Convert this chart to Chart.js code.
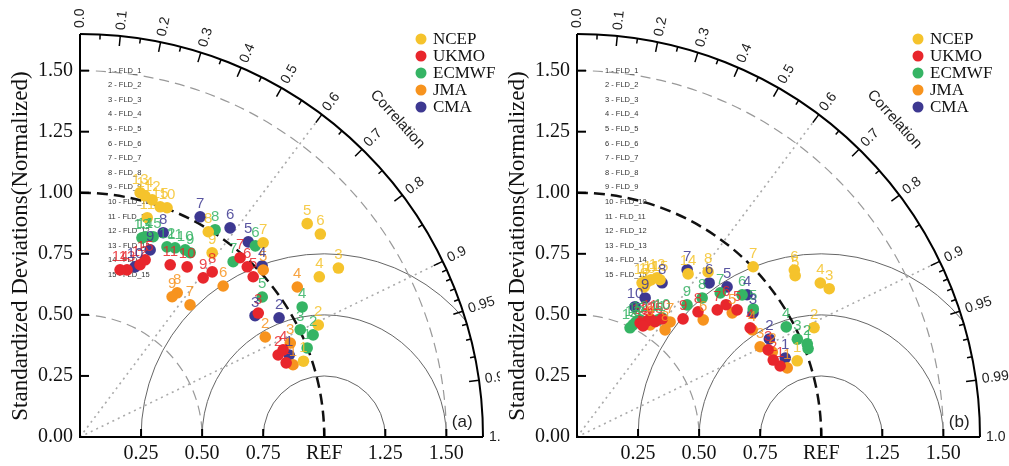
<!DOCTYPE html>
<html>
<head>
<meta charset="utf-8">
<script src="https://cdn.jsdelivr.net/npm/chart.js@4"></script>
<style>
  body { margin: 0; background: #fff; }
  #wrap { position: relative; width: 1009px; height: 466px; overflow: hidden; }
  canvas { position: absolute; top: 0; }
</style>
</head>
<body>
<div id="wrap">
  <canvas id="chartA" width="500" height="466" style="left:0"></canvas>
  <canvas id="chartB" width="512" height="466" style="left:497px"></canvas>
</div>
<script>
// models and colours
var models = ['NCEP', 'UKMO', 'ECMWF', 'JMA', 'CMA'];
var colors = ['#f5c32c', '#e8262c', '#35b464', '#f7931e', '#3d3891'];

var fldNames = [];
for (var k = 1; k <= 15; k++) fldNames.push(k + ' - FLD_' + k);

// correlation ticks on the outer arc
var corrLabels = [0.0, 0.1, 0.2, 0.3, 0.4, 0.5, 0.6, 0.7, 0.8, 0.9, 0.95, 0.99, 1.0];
var corrMinor = [0.05, 0.15, 0.25, 0.35, 0.45, 0.55, 0.65, 0.75, 0.85, 0.91, 0.92, 0.93, 0.94, 0.96, 0.97, 0.98];
var corrDotted = [0.6, 0.9];
var sdTicks = [0.25, 0.5, 0.75, 1.0, 1.25, 1.5];
var sdTickLabels = ['0.25', '0.50', '0.75', 'REF', '1.25', '1.50'];
var yTicks = [0, 0.25, 0.5, 0.75, 1.0, 1.25, 1.5];
var yTickLabels = ['0.00', '0.25', '0.50', '0.75', '1.00', '1.25', '1.50'];
var rmsCircles = [0.25, 0.5, 0.75];
var sdDashed = [0.5, 1.5];
var sdMax = 1.65;

// panel (a): normalized standard deviation and correlation per field
var a_ncep_fld = [1,2,3,4,5,6,7,8,9,10,11,12,13,14,15];
var a_ncep_sd  = [0.966,1.078,1.264,1.179,1.276,1.288,1.093,0.991,0.928,1.004,0.939,1.015,1.030,1.023,0.998];
var a_ncep_r   = [0.947,0.905,0.837,0.831,0.729,0.764,0.686,0.530,0.583,0.355,0.293,0.291,0.239,0.260,0.329];

var a_ukmo_fld = [1,2,3,4,5,6,7,8,9,10,11,12,13,14,15];
var a_ukmo_sd  = [0.897,0.878,0.889,0.905,0.966,0.977,0.984,0.866,0.824,0.823,0.796,0.747,0.711,0.704,0.773];
var a_ukmo_r   = [0.941,0.924,0.821,0.919,0.734,0.701,0.666,0.625,0.612,0.533,0.464,0.329,0.271,0.233,0.345];

var a_ecmwf_fld = [1,2,3,4,5,6,7,8,9,10,11,12,13,14,15];
var a_ecmwf_sd  = [0.999,1.042,1.003,1.054,0.941,1.062,0.953,1.013,0.879,0.879,0.867,0.856,0.854,0.862,0.873];
var a_ecmwf_r   = [0.931,0.916,0.899,0.863,0.793,0.676,0.658,0.546,0.513,0.490,0.449,0.416,0.297,0.309,0.343];

var a_jma_fld = [1,2,3,4,5,6,7,8,9];
var a_jma_sd  = [0.921,0.862,0.943,1.081,1.015,0.852,0.704,0.712,0.687];
var a_jma_r   = [0.947,0.880,0.913,0.823,0.739,0.688,0.640,0.559,0.549];

var a_cma_fld = [1,2,3,4,5,6,7,8,9,10];
var a_cma_sd  = [0.920,0.950,0.872,1.023,1.055,1.054,1.027,0.903,0.818,0.732];
var a_cma_r   = [0.931,0.858,0.822,0.729,0.653,0.583,0.479,0.377,0.351,0.308];

// panel (b)
var b_ncep_fld = [1,2,3,4,5,6,7,8,9,10,11,12,13,14,15];
var b_ncep_sd  = [0.954,1.069,1.198,1.179,1.111,1.122,1.003,0.863,0.673,0.697,0.711,0.730,0.685,0.808,0.728];
var b_ncep_r   = [0.945,0.908,0.862,0.845,0.804,0.793,0.719,0.622,0.408,0.412,0.426,0.449,0.389,0.563,0.467];

var b_ukmo_fld = [1,2,3,4,5,6,7,8,9,10,11,12,13,14,15];
var b_ukmo_sd  = [0.881,0.863,0.860,0.838,0.837,0.816,0.775,0.713,0.650,0.596,0.569,0.555,0.534,0.529,0.570];
var b_ukmo_r   = [0.944,0.931,0.910,0.846,0.783,0.748,0.741,0.695,0.668,0.585,0.526,0.517,0.484,0.511,0.561];

var b_ecmwf_fld = [1,2,3,4,5,6,7,8,9,10,11,12,13,14,15];
var b_ecmwf_sd  = [1.013,1.017,0.987,0.968,0.892,0.892,0.832,0.766,0.704,0.599,0.583,0.545,0.513,0.497,0.530];
var b_ecmwf_r   = [0.934,0.927,0.914,0.885,0.809,0.758,0.705,0.669,0.640,0.581,0.569,0.474,0.447,0.437,0.456];

var b_jma_fld = [1,2,3,4,5,6,7,8,9];
var b_jma_sd  = [0.906,0.872,0.836,0.841,0.814,0.705,0.606,0.568,0.548];
var b_jma_r   = [0.950,0.917,0.897,0.853,0.781,0.733,0.629,0.635,0.546];

var b_cma_fld = [1,2,3,4,5,6,7,8,9,10];
var b_cma_sd  = [0.912,0.884,0.882,0.908,0.869,0.831,0.820,0.721,0.634,0.584];
var b_cma_r   = [0.935,0.891,0.817,0.767,0.707,0.651,0.550,0.483,0.440,0.407];

function polar(sd, r) {
  return sd.map(function(s, i) {
    return { x: s * r[i], y: s * Math.sqrt(1 - r[i] * r[i]) };
  });
}

function makeSets(list) {
  return list.map(function(m, i) {
    return {
      label: models[i],
      data: polar(m[1], m[2]),
      fields: m[0],
      backgroundColor: colors[i],
      borderColor: colors[i],
      pointRadius: 5.8,
      pointHoverRadius: 5.8,
      borderWidth: 0
    };
  });
}

var taylorPlugin = {
  id: 'taylor',
  beforeDatasetsDraw: function(chart) {
    var ctx = chart.ctx;
    var xs = chart.scales.x, ys = chart.scales.y;
    var x0 = xs.getPixelForValue(0), y0 = ys.getPixelForValue(0);
    var k = xs.getPixelForValue(1) - x0;
    var R = sdMax * k;
    ctx.save();

    // rms circles around REF, clipped to the quadrant
    ctx.save();
    ctx.beginPath();
    ctx.moveTo(x0, y0);
    ctx.arc(x0, y0, R, -Math.PI / 2, 0);
    ctx.closePath();
    ctx.clip();
    var xr = xs.getPixelForValue(1);
    ctx.strokeStyle = '#666';
    ctx.lineWidth = 1;
    rmsCircles.forEach(function(c) {
      ctx.beginPath();
      ctx.arc(xr, y0, c * k, Math.PI, 2 * Math.PI);
      ctx.stroke();
    });
    ctx.restore();

    // dashed sd arcs
    ctx.strokeStyle = '#999';
    ctx.lineWidth = 1.2;
    ctx.setLineDash([10, 6]);
    sdDashed.forEach(function(s) {
      ctx.beginPath();
      ctx.arc(x0, y0, s * k, -Math.PI / 2, 0);
      ctx.stroke();
    });
    // REF arc
    ctx.strokeStyle = '#111';
    ctx.lineWidth = 2.5;
    ctx.setLineDash([11, 6]);
    ctx.beginPath();
    ctx.arc(x0, y0, k, -Math.PI / 2, 0);
    ctx.stroke();

    // dotted correlation rays
    ctx.strokeStyle = '#aaa';
    ctx.lineWidth = 1.6;
    ctx.setLineDash([2, 4]);
    corrDotted.forEach(function(c) {
      var t = Math.acos(c);
      ctx.beginPath();
      ctx.moveTo(x0, y0);
      ctx.lineTo(x0 + R * Math.cos(t), y0 - R * Math.sin(t));
      ctx.stroke();
    });
    ctx.setLineDash([]);

    // axes and outer arc
    ctx.strokeStyle = '#000';
    ctx.lineWidth = 2;
    ctx.beginPath();
    ctx.moveTo(x0, y0 - R);
    ctx.lineTo(x0, y0);
    ctx.lineTo(x0 + R, y0);
    ctx.stroke();
    ctx.beginPath();
    ctx.arc(x0, y0, R, -Math.PI / 2, 0);
    ctx.stroke();

    // correlation ticks
    function tick(c, len) {
      var t = Math.acos(c);
      ctx.beginPath();
      ctx.moveTo(x0 + R * Math.cos(t), y0 - R * Math.sin(t));
      ctx.lineTo(x0 + (R - len) * Math.cos(t), y0 - (R - len) * Math.sin(t));
      ctx.stroke();
    }
    ctx.lineWidth = 1.5;
    corrLabels.forEach(function(c) { if (c > 0 && c < 1) tick(c, 10); });
    corrMinor.forEach(function(c) { tick(c, 5); });

    // correlation labels
    ctx.fillStyle = '#222';
    ctx.font = '14px "Liberation Sans", Arial, sans-serif';
    ctx.textAlign = 'left';
    ctx.textBaseline = 'middle';
    corrLabels.forEach(function(c) {
      var t = Math.acos(c);
      ctx.save();
      ctx.translate(x0 + (R + 6) * Math.cos(t), y0 - (R + 6) * Math.sin(t));
      ctx.rotate(-t);
      ctx.fillText(c.toFixed(c === 0.95 || c === 0.99 ? 2 : 1), 0, 0);
      ctx.restore();
    });
    ctx.save();
    ctx.font = '15px "Liberation Sans", Arial, sans-serif';
    ctx.textAlign = 'center';
    var tc = Math.PI / 4;
    ctx.translate(x0 + (R + 46) * Math.cos(tc), y0 - (R + 46) * Math.sin(tc));
    ctx.rotate(tc + 0.05);
    ctx.fillText('Correlation', 0, 0);
    ctx.restore();

    // sd ticks and labels
    ctx.lineWidth = 2;
    ctx.fillStyle = '#111';
    ctx.font = '20px "Liberation Serif", "Times New Roman", serif';
    ctx.textAlign = 'center';
    ctx.textBaseline = 'top';
    sdTicks.forEach(function(s, i) {
      var px = xs.getPixelForValue(s);
      ctx.beginPath();
      ctx.moveTo(px, y0);
      ctx.lineTo(px, y0 - 8);
      ctx.stroke();
      ctx.fillText(sdTickLabels[i], px, y0 + 7);
    });
    ctx.textAlign = 'right';
    ctx.textBaseline = 'middle';
    yTicks.forEach(function(s, i) {
      var py = ys.getPixelForValue(s);
      ctx.beginPath();
      ctx.moveTo(x0, py);
      ctx.lineTo(x0 + 9, py);
      ctx.stroke();
      ctx.fillText(yTickLabels[i], x0 - 7, py);
    });

    // y title
    ctx.save();
    ctx.font = '23px "Liberation Serif", "Times New Roman", serif';
    ctx.textAlign = 'center';
    ctx.translate(21, 246);
    ctx.rotate(-Math.PI / 2);
    ctx.fillText('Standardized Deviations(Normalized)', 0, 0);
    ctx.restore();

    // field list
    ctx.fillStyle = '#333';
    ctx.font = '7.5px "Liberation Sans", Arial, sans-serif';
    ctx.textAlign = 'left';
    var fy = ys.getPixelForValue(1.5);
    fldNames.forEach(function(n, i) {
      ctx.fillText(n, x0 + 28, fy + i * 14.6);
    });

    // panel tag
    ctx.fillStyle = '#222';
    ctx.font = '17px "Liberation Sans", Arial, sans-serif';
    ctx.textAlign = 'center';
    ctx.fillText(chart.options.plugins.taylor.tag, x0 + 1.565 * k, y0 - 15);

    ctx.restore();
  },
  afterDatasetsDraw: function(chart) {
    var ctx = chart.ctx;
    var x0 = chart.scales.x.getPixelForValue(0);
    ctx.save();
    ctx.font = '15px "Liberation Sans", Arial, sans-serif';
    ctx.textAlign = 'center';
    ctx.textBaseline = 'middle';
    ctx.globalAlpha = 0.85;
    chart.data.datasets.forEach(function(ds, i) {
      var meta = chart.getDatasetMeta(i);
      ctx.fillStyle = ds.backgroundColor;
      meta.data.forEach(function(pt, j) {
        ctx.fillText(String(ds.fields[j]), pt.x, pt.y - 13);
      });
    });
    ctx.globalAlpha = 1;
    // model legend
    ctx.font = '17px "Liberation Serif", "Times New Roman", serif';
    ctx.textAlign = 'left';
    models.forEach(function(m, i) {
      var ly = 39 + i * 17;
      ctx.fillStyle = colors[i];
      ctx.beginPath();
      ctx.arc(x0 + 341, ly, 5.5, 0, 2 * Math.PI);
      ctx.fill();
      ctx.fillStyle = '#111';
      ctx.fillText(m, x0 + 353, ly + 1);
    });
    ctx.restore();
  }
};

function makeChart(id, sets, tag, padRight) {
  return new Chart(document.getElementById(id), {
    type: 'scatter',
    data: { datasets: sets },
    options: {
      responsive: false,
      animation: false,
      clip: false,
      layout: { padding: { left: 80, right: padRight, top: 34, bottom: 29 } },
      scales: {
        x: { display: false, min: 0, max: sdMax },
        y: { display: false, min: 0, max: sdMax }
      },
      plugins: { legend: { display: false }, tooltip: { enabled: false }, taylor: { tag: tag } },
      events: []
    },
    plugins: [taylorPlugin]
  });
}

makeChart('chartA', makeSets([
  [a_ncep_fld, a_ncep_sd, a_ncep_r],
  [a_ukmo_fld, a_ukmo_sd, a_ukmo_r],
  [a_ecmwf_fld, a_ecmwf_sd, a_ecmwf_r],
  [a_jma_fld, a_jma_sd, a_jma_r],
  [a_cma_fld, a_cma_sd, a_cma_r]
]), '(a)', 17);

makeChart('chartB', makeSets([
  [b_ncep_fld, b_ncep_sd, b_ncep_r],
  [b_ukmo_fld, b_ukmo_sd, b_ukmo_r],
  [b_ecmwf_fld, b_ecmwf_sd, b_ecmwf_r],
  [b_jma_fld, b_jma_sd, b_jma_r],
  [b_cma_fld, b_cma_sd, b_cma_r]
]), '(b)', 29);
</script>
</body>
</html>
